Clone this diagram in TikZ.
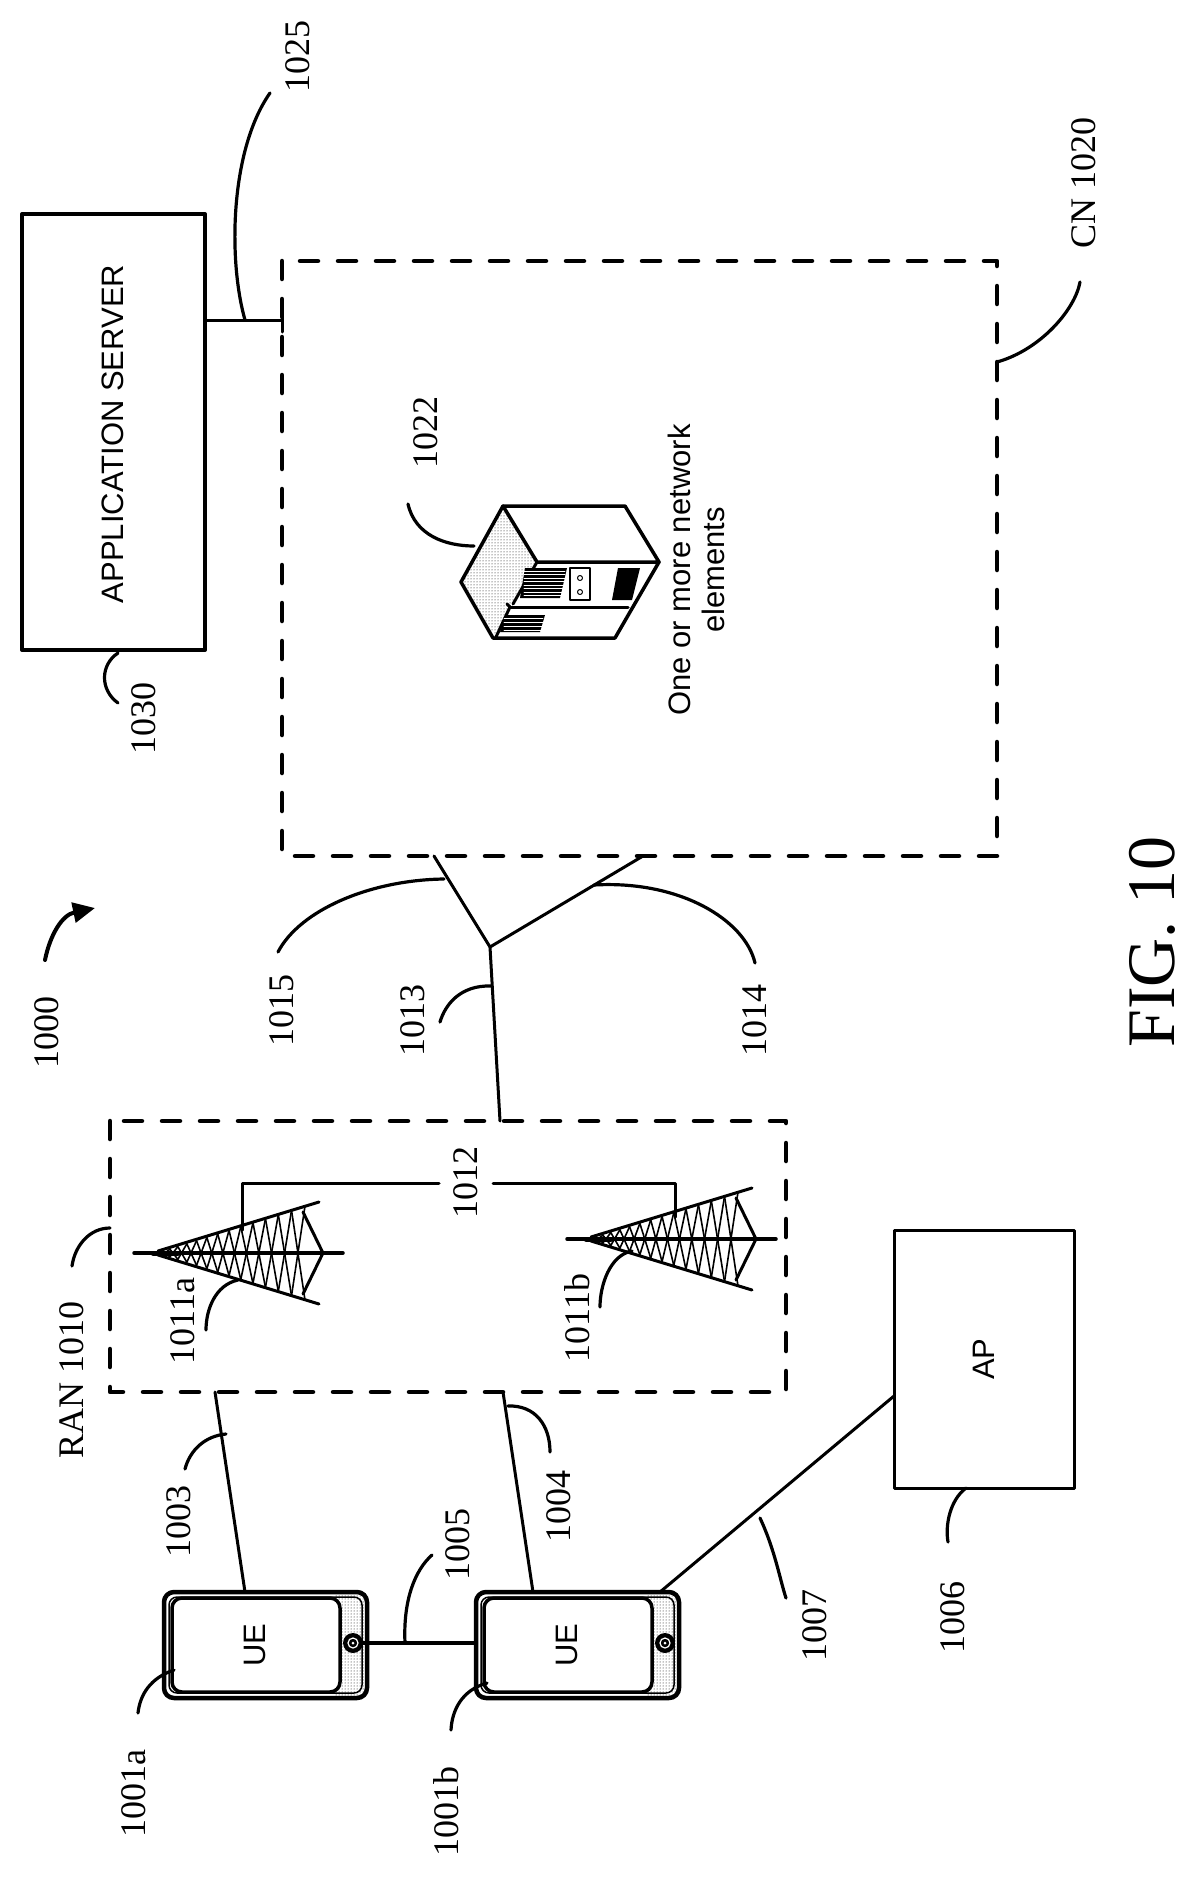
\documentclass[tikz,border=0pt]{standalone}
\usepackage{fontspec}
\setmainfont{Liberation Serif}
\setsansfont{Liberation Sans}
\usetikzlibrary{patterns,arrows.meta}
\begin{document}
\begin{tikzpicture}[x=1pt,y=-1pt,line cap=round,line join=round,
  lbl/.style={font=\fontsize{36}{36}\selectfont,rotate=90,inner sep=0},
  sf/.style={font=\sffamily\fontsize{31}{34}\selectfont,rotate=90,inner sep=0,align=center},
  lead/.style={line width=3.2pt},
  conn/.style={line width=3pt},
  dbox/.style={line width=4.5pt,dash pattern=on 18pt off 20pt,line cap=round},
  box/.style={line width=4pt}]
\useasboundingbox (0,0) rectangle (1200,1881);
% boxes
\draw[box] (22,214) rectangle (205,650);
\node[sf] (as) at (113,434) {APPLICATION SERVER};
\draw[dbox] (282,261) rectangle (997,856);
\draw[dbox] (110,1121) rectangle (786,1392);
\draw[box,line width=3pt] (894,1230) rectangle (1074,1488);
\node[sf] (ap) at (984,1359) {AP};
% 1025
\coordinate (asr) at (205,320);
\coordinate (cnl) at (282,320);
\draw[conn] (asr) -- (cnl);
\draw[conn] (282,308) -- (282,332);
\draw[lead] (245,320) .. controls (228,260) and (230,150) .. (270,93);
\node[lbl] (l1025) at (298,57) {1025};
\draw[lead] (118,653) .. controls (100,665) and (100,690) .. (118,703);
\node[lbl] (l1030) at (144,718) {1030};
% CN label
\draw[lead] (997,362) .. controls (1040,350) and (1075,310) .. (1080,282);
\node[lbl] (lcn) at (1084,183) {CN 1020};
% server icon
\begin{scope}
\fill[pattern=dots] (503,506) -- (537,562) -- (513,604) -- (496,637) -- (461,582) -- cycle;
\draw[line width=3.5pt,fill=white] (503,506) -- (625,506) -- (659,562) -- (537,562) -- cycle;
\draw[line width=3.5pt] (503,506) -- (461,582) -- (493,638) -- (615,638) -- (630,612) -- (659,562);
\draw[line width=3pt] (537,562) -- (513,604);
\draw[line width=3pt] (510,607) -- (628,607);
\draw[line width=3pt] (510,607) -- (496,637);
\draw[line width=3pt] (510,607) -- (507,604);
\fill (525,568) -- (567,568) -- (560,598) -- (520,598) -- cycle;
\foreach \k in {0,...,7}{\draw[white,line width=0.8pt] (524,571+\k*3.5) -- (565,571+\k*3.5);}
\draw[line width=2.5pt] (570,568) rectangle (590,600);
\draw[line width=1pt] (580,578) circle (2.5) (580,592) circle (2.5);
\fill (618,568) -- (640,568) -- (632,600) -- (612,600) -- cycle;
\fill (506,615) -- (545,615) -- (540,632) -- (500,632) -- cycle;
\foreach \k in {0,...,3}{\draw[white,line width=0.8pt] (504,618+\k*4) -- (543,618+\k*4);}
\end{scope}
\draw[lead] (408,504) .. controls (415,535) and (445,546) .. (474,546);
\node[lbl] (l1022) at (426,432) {1022};
\node[sf] (ne) at (696,570) {One or more network\\elements};
% 1013 Y
\coordinate (j) at (490,947);
\coordinate (ranT) at (500,1121);
\draw[conn] (ranT) -- (j) -- (434,856);
\draw[conn] (j) -- (643,856);
\draw[lead] (444,879) .. controls (370,880) and (300,910) .. (278,952);
\node[lbl] (l1015) at (282,1010) {1015};
\draw[lead] (594,885) .. controls (680,880) and (745,920) .. (755,963);
\node[lbl] (l1014) at (755,1020) {1014};
\draw[lead] (491,986) .. controls (460,985) and (445,1005) .. (440,1022);
\node[lbl] (l1013) at (413,1020) {1013};
% 1000
\draw[line width=4pt,-{Triangle[length=22pt,width=20pt]}] (45,960) .. controls (50,935) and (62,915) .. (95,908);
\node[lbl] (l1000) at (47,1032) {1000};
% FIG
\node[rotate=90,font=\fontsize{68}{68}\selectfont] (fig) at (1152,942) {FIG. 10};
% RAN label
\draw[lead] (110,1228) .. controls (90,1228) and (75,1245) .. (72,1266);
\node[lbl] (lran) at (72,1380) {RAN 1010};
% towers
\foreach \ox/\oy in {158/1253,591/1239}{
\begin{scope}[shift={(\ox,\oy)}]
\draw[line width=3.5pt] (-24,0) -- (185,0);
\draw[line width=5pt] (-5,0) -- (20,0);
\draw[line width=3pt] (0,-2) -- (161,-51);
\draw[line width=3pt] (0,2) -- (161,51);
\draw[line width=3pt] (145,-41) -- (165,0) -- (145,41);
\foreach \i in {0,...,13}{
  \pgfmathsetmacro\sa{(\i/14)^1.3}
  \pgfmathsetmacro\sb{((\i+1)/14)^1.3}
  \draw[line width=1.6pt] (\sa*147,-\sa*47) -- (\sb*147,\sb*47);
  \draw[line width=1.6pt] (\sa*147,\sa*47) -- (\sb*147,-\sb*47);
}
\end{scope}}
% 1012
\coordinate (t1) at (242,1230);
\coordinate (t2) at (675,1217);
\draw[conn] (t1) -- (242,1183) -- (439,1183);
\draw[conn] (493,1183) -- (675,1183) -- (t2);
\node[lbl] (l1012) at (466,1182) {1012};
\draw[lead] (238,1280) .. controls (215,1285) and (206,1310) .. (206,1330);
\node[lbl] (l1011a) at (183,1321) {1011a};
\draw[lead] (632,1251) .. controls (610,1255) and (600,1285) .. (600,1307);
\node[lbl] (l1011b) at (577,1318) {1011b};
% UEs
\foreach \ux/\nm in {164/ue1,476/ue2}{
\begin{scope}[shift={(\ux,1592)}]
\fill[pattern=dots] (170,2) rectangle (201,104);
\draw[line width=4.5pt] (0,0) [rounded corners=10pt] rectangle (203,106);
\draw[line width=1.5pt,rounded corners=8pt] (5,5) rectangle (198,101);
\draw[line width=3.5pt,fill=white,rounded corners=10pt] (8,6) rectangle (176,100);
\fill (189,51) circle (10);
\draw[white,line width=1.2pt] (189,51) circle (5);
\fill[white] (189,51) circle (1.5);
\node[sf] (\nm) at (91,53) {UE};
\end{scope}}
\coordinate (ue1t) at (245,1592);
\coordinate (ue2t) at (533,1592);
\draw[conn] (215,1392) -- (ue1t);
\draw[conn] (503,1392) -- (ue2t);
\draw[conn,line width=4pt] (363,1643) -- (476,1643);
\draw[conn] (660,1592) -- (894,1396);
\draw[lead] (226,1434) .. controls (205,1436) and (190,1450) .. (185,1469);
\node[lbl] (l1003) at (179,1521) {1003};
\draw[lead] (508,1406) .. controls (535,1405) and (550,1425) .. (550,1452);
\node[lbl] (l1004) at (559,1506) {1004};
\draw[lead] (405,1643) .. controls (403,1600) and (415,1570) .. (432,1555);
\node[lbl] (l1005) at (458,1544) {1005};
\draw[lead] (174,1670) .. controls (150,1678) and (140,1695) .. (138,1713);
\node[lbl] (l1001a) at (134,1793) {1001a};
\draw[lead] (487,1683) .. controls (462,1690) and (452,1710) .. (451,1730);
\node[lbl] (l1001b) at (446,1811) {1001b};
\draw[lead] (760,1518) .. controls (775,1550) and (780,1580) .. (786,1598);
\node[lbl] (l1007) at (815,1625) {1007};
\draw[lead] (966,1488) .. controls (950,1500) and (945,1525) .. (948,1542);
\node[lbl] (l1006) at (953,1617) {1006};
\end{tikzpicture}
\end{document}
